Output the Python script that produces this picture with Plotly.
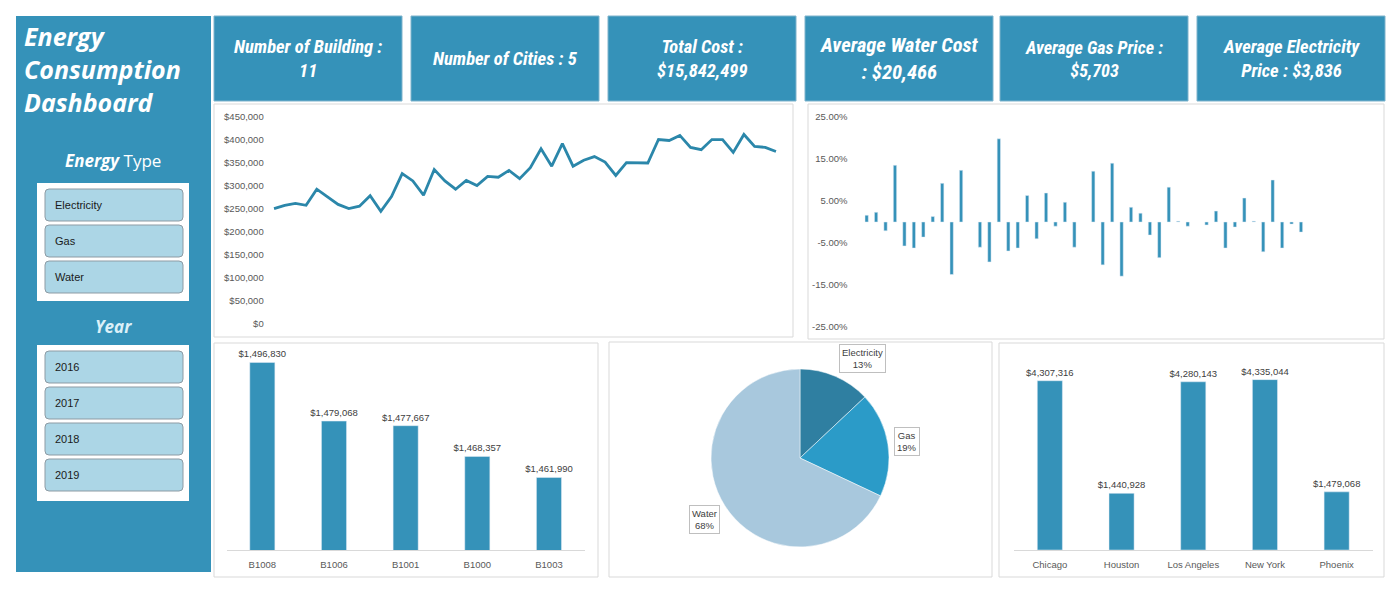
import plotly.graph_objects as go

W, H = 1400, 599

# ---- data ----
years = [2016, 2017, 2018, 2019]
month_names = ["Jan", "Feb", "Mar", "Apr", "May", "Jun", "Jul", "Aug", "Sep", "Oct", "Nov", "Dec"]
months = [f"{m} {y}" for y in years for m in month_names]

monthly_cost = [251000, 258000, 262000, 258000, 293000, 277000, 260000, 251000, 256000, 279000, 245000, 277000,
                327000, 311000, 280000, 336000, 311000, 293000, 312000, 301000, 321000, 319000, 334000, 316000,
                340000, 381000, 343000, 392000, 343000, 356000, 364000, 352000, 323000, 351000, 351000, 350000,
                401000, 399000, 410000, 384000, 379000, 401000, 401000, 373000, 412000, 386000, 384000, 375000]

# month over month change in %, January of each year has no value
monthly_change = [None, 1.6, 2.3, -2.1, 13.5, -5.7, -6.2, -3.6, 1.3, 9.2, -12.5, 12.3,
                  None, -6.0, -9.5, 19.8, -6.9, -6.2, 6.3, -4.0, 6.9, -1.0, 4.7, -6.0,
                  None, 12.1, -10.2, 14.0, -12.9, 3.5, 2.1, -3.1, -8.5, 8.3, 0.2, -1.0,
                  None, -0.7, 2.6, -6.2, -1.2, 5.7, 0.2, -7.1, 10.0, -6.2, -0.5, -2.4]
change_ticks = [-25, -15, -5, 5, 15, 25]

buildings = ["B1008", "B1006", "B1001", "B1000", "B1003"]
building_cost = [1496830, 1479068, 1477667, 1468357, 1461990]

energy_types = ["Electricity", "Gas", "Water"]
energy_share = [13, 19, 68]

cities = ["Chicago", "Houston", "Los Angeles", "New York", "Phoenix"]
city_cost = [4307316, 1440928, 4280143, 4335044, 1479068]

kpi_texts = ["Number of Building :<br>11", "Number of Cities : 5", "Total Cost :<br>$15,842,499",
             "Average Water Cost<br>: $20,466", "Average Gas Price :<br>$5,703",
             "Average Electricity<br>Price : $3,836"]
year_buttons = ["2016", "2017", "2018", "2019"]

# ---- styles ----
BLUE = "#3592b9"
LINE = "#2b87aa"
BTN = "#acd6e6"
GREY = "#595959"
BORDER = "#d9d9d9"
TICKFONT = dict(family="Liberation Sans, Arial", size=9.5, color=GREY)
KPIFONT = "Roboto Condensed, Liberation Sans Narrow, Roboto"


def px(x):
    return x / W


def py(y):
    return 1 - y / H


def rect(x0, y0, x1, y1, fill, line=None, width=1):
    return dict(type="rect", xref="paper", yref="paper", x0=px(x0), x1=px(x1), y0=py(y1), y1=py(y0),
                fillcolor=fill, line=dict(color=line or fill, width=width if line else 0), layer="below")


def rrect(x0, y0, x1, y1, r, fill, line):
    pts = (f"M {px(x0 + r)},{py(y0)} L {px(x1 - r)},{py(y0)} Q {px(x1)},{py(y0)} {px(x1)},{py(y0 + r)} "
           f"L {px(x1)},{py(y1 - r)} Q {px(x1)},{py(y1)} {px(x1 - r)},{py(y1)} "
           f"L {px(x0 + r)},{py(y1)} Q {px(x0)},{py(y1)} {px(x0)},{py(y1 - r)} "
           f"L {px(x0)},{py(y0 + r)} Q {px(x0)},{py(y0)} {px(x0 + r)},{py(y0)} Z")
    return dict(type="path", xref="paper", yref="paper", path=pts, fillcolor=fill,
                line=dict(color=line, width=1), layer="below")


def label(x, y, text, font, xanchor="center"):
    return dict(x=px(x), y=py(y), xref="paper", yref="paper", xanchor=xanchor, yanchor="middle",
                showarrow=False, text=text, font=font)


fig = go.Figure()

# line chart: monthly cost
fig.add_trace(go.Scatter(x=months, y=monthly_cost, mode="lines", line=dict(color=LINE, width=2.8),
                         xaxis="x", yaxis="y"))

# monthly change bars
fig.add_trace(go.Bar(x=months, y=monthly_change, marker_color=BLUE, xaxis="x2", yaxis="y2"))

# top buildings
barfont = dict(family="Liberation Sans, Arial", size=9.5, color="#404040")
fig.add_trace(go.Bar(x=buildings, y=building_cost, marker_color=BLUE, xaxis="x3", yaxis="y3",
                     texttemplate="%{y:$,.0f}", textposition="outside", cliponaxis=False,
                     constraintext="none", textfont=barfont))

# city cost
fig.add_trace(go.Bar(x=cities, y=city_cost, marker_color=BLUE, xaxis="x4", yaxis="y4",
                     texttemplate="%{y:$,.0f}", textposition="outside", cliponaxis=False,
                     constraintext="none", textfont=barfont))

# energy share pie
fig.add_trace(go.Pie(labels=energy_types, values=energy_share, sort=False, direction="clockwise", rotation=0,
                     marker=dict(colors=["#2f7fa1", "#2b9bc8", "#a8c8dd"], line=dict(color="#ffffff", width=0.5)),
                     textinfo="none", domain=dict(x=[px(711), px(889)], y=[py(547), py(369)])))

noaxis = dict(showgrid=False, zeroline=False, showline=False, ticks="", automargin=False)

fig.update_layout(
    width=W, height=H, margin=dict(l=0, r=0, t=0, b=0, autoexpand=False),
    paper_bgcolor="white", plot_bgcolor="white", showlegend=False, bargap=0.65,
    xaxis=dict(domain=[px(268.7), px(781.3)], range=[-0.5, 47.5], showticklabels=False, anchor="y", **noaxis),
    yaxis=dict(domain=[py(324), py(117)], range=[0, 450000], dtick=50000, tickformat="$,.0f", anchor="x",
               tickfont=TICKFONT, ticklabelstandoff=4, **noaxis),
    xaxis2=dict(domain=[px(852.5), px(1305.7)], range=[-0.5, 47.5], showticklabels=False, anchor="y2", **noaxis),
    yaxis2=dict(domain=[py(327), py(117)], range=[-25, 25], tickvals=change_ticks, anchor="x2",
                ticktext=[f"{v:.2f}%" for v in change_ticks], tickfont=TICKFONT, ticklabelstandoff=4, **noaxis),
    xaxis3=dict(domain=[px(226.5), px(584.8)], range=[-0.5, 4.5], showgrid=False, zeroline=False, anchor="y3",
                showline=True, linecolor=BORDER, ticks="", tickfont=TICKFONT, ticklabelstandoff=6,
                automargin=False),
    yaxis3=dict(domain=[py(550), py(352)], range=[1440000, 1500000], visible=False, anchor="x3"),
    xaxis4=dict(domain=[px(1014), px(1372.5)], range=[-0.5, 4.5], showgrid=False, zeroline=False, anchor="y4",
                showline=True, linecolor=BORDER, ticks="", tickfont=TICKFONT, ticklabelstandoff=6,
                automargin=False),
    yaxis4=dict(domain=[py(550), py(353.5)], range=[0, 5000000], visible=False, anchor="x4"),
)

shapes = []
annotations = []

# left panel
shapes.append(rect(16, 16, 211, 572, BLUE))
titlefont = dict(family="Open Sans, DejaVu Sans", size=25, color="white")
for i, line_text in enumerate(["Energy", "Consumption", "Dashboard"]):
    annotations.append(label(22, 36 + 33 * i, f"<b><i>{line_text}</i></b>", titlefont, "left"))
annotations.append(label(113, 160, "<b><i>Energy</i></b> Type",
                         dict(family="Open Sans, DejaVu Sans", size=17, color="white")))
annotations.append(label(113, 326, "<b><i>Year</i></b>",
                         dict(family="Open Sans, DejaVu Sans", size=17, color="#dcf0f8")))

# slicers
btnfont = dict(family="Liberation Sans, Arial", size=11, color="#1a1a1a")
shapes.append(rect(37, 183, 189, 301, "white"))
for i, name in enumerate(energy_types):
    top = 189 + 36 * i
    shapes.append(rrect(45, top, 183, top + 32, 4, BTN, "#8d9ba4"))
    annotations.append(label(53, top + 16, name, btnfont, "left"))
shapes.append(rect(37, 345, 189, 501, "white"))
for i, name in enumerate(year_buttons):
    top = 351 + 36 * i
    shapes.append(rrect(45, top, 183, top + 32, 4, BTN, "#8d9ba4"))
    annotations.append(label(53, top + 16, name, btnfont, "left"))

# KPI cards
card_x = [214, 411, 608, 805, 1000, 1197]
kpi_sizes = [18.5, 18.5, 18.5, 20.5, 18, 18.5]
for x0, txt, fs in zip(card_x, kpi_texts, kpi_sizes):
    shapes.append(rect(x0, 16, x0 + 188, 101, BLUE, "#7fb3cc", 1))
    annotations.append(label(x0 + 94, 58.5, f"<b><i>{txt}</i></b>",
                             dict(family=KPIFONT, size=fs, color="white")))

# chart panels
for x0, y0, x1, y1 in [(214, 104, 793, 337), (808, 104, 1384, 339),
                       (214, 343, 598, 577), (609, 342, 992, 577), (999, 343, 1384, 577)]:
    shapes.append(rect(x0, y0, x1, y1, "white", BORDER, 1))

# pie callouts
for name, share, (cx, cy) in zip(energy_types, energy_share, [(862, 358), (907, 441), (704, 519)]):
    ann = label(cx, cy, f"{name}<br>{share}%", dict(family="Liberation Sans, Arial", size=9.5, color="#404040"))
    ann.update(bgcolor="white", bordercolor="#bfbfbf", borderwidth=1, borderpad=2)
    annotations.append(ann)

fig.update_layout(shapes=shapes, annotations=annotations)

fig.write_html("out.html", config=dict(displayModeBar=False),
               post_script="document.body.style.margin='0';document.body.style.overflow='hidden';")
